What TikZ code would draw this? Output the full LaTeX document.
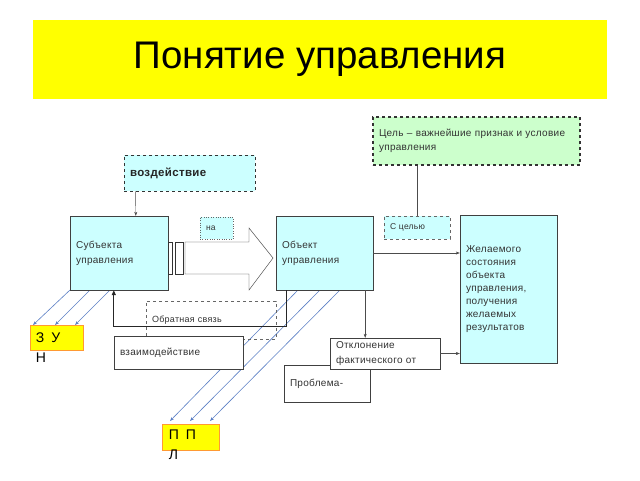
\documentclass[tikz,border=0pt]{standalone}
\usepackage{fontspec}
\setmainfont{Liberation Sans}
\usetikzlibrary{arrows.meta}

\definecolor{titleyellow}{HTML}{FFFF00}
\definecolor{boxcyan}{HTML}{CCFFFF}
\definecolor{boxgreen}{HTML}{CCFFCC}
\definecolor{linkblue}{HTML}{5B7FC4}
\definecolor{zunorange}{HTML}{FF9933}

\newcommand{\spaced}[2]{\fontsize{#1}{#2}\selectfont\addfontfeature{LetterSpace=3}}

\tikzset{
  box/.style={draw=black!75, text=black!80, align=left, inner xsep=6pt, inner ysep=0pt,
    font=\spaced{10}{14}},
  yellowbox/.style={draw=zunorange, fill=titleyellow, line width=0.8pt},
  arr/.style={draw=black!70, -{Stealth[length=4pt, width=3pt]}},
  link/.style={draw=linkblue, line width=0.6pt, -{Stealth[length=4pt, width=3pt]}}
}

\begin{document}
\begin{tikzpicture}[x=1pt, y=-1pt]
  \useasboundingbox (0, 0) rectangle (640, 480);

  \node[fill=titleyellow, minimum width=574pt, minimum height=79pt,
    font=\fontsize{38.5}{40}\selectfont] (title) at (320, 59.5) {Понятие управления};

  \node[box, fill=boxgreen, draw=black!80, line width=1.3pt, dashed, minimum width=207pt,
    minimum height=48pt, text width=195pt] (goal) at (476.5, 141)
    {Цель -- важнейшие признак и условие\\управления};

  \node[box, fill=boxcyan, draw=black!80, line width=0.9pt, dashed, minimum width=131pt,
    minimum height=36pt, text width=119pt, font=\spaced{11.5}{14}\bfseries,
    text=black!85] (vozd) at (189.5, 173) {воздействие};

  % blue lines go under the boxes
  \draw[link] (70, 290) -- (33, 325);
  \draw[link] (90, 290) -- (55, 325);
  \draw[link] (110, 290) -- (75, 325);
  \draw[link] (298, 290) -- (170, 421);
  \draw[link] (320, 290) -- (190, 421);
  \draw[link] (340, 290) -- (210, 421);

  \node[box, fill=boxcyan, minimum width=98pt, minimum height=74pt, text width=86pt,
    font=\spaced{10}{15}] (subj) at (119, 253) {Субъекта\\управления};
  \node[box, fill=boxcyan, minimum width=97pt, minimum height=74pt, text width=85pt,
    font=\spaced{10}{15}] (obj) at (324.5, 253) {Объект\\управления};
  \node[box, fill=boxcyan, minimum width=97pt, minimum height=148pt, text width=85pt,
    font=\spaced{10}{13}] (zhel) at (508.5, 289)
    {Желаемого\\состояния\\объекта\\управления,\\получения\\желаемых\\результатов};

  \node[box, fill=boxcyan, draw=black!60, dotted, minimum width=33pt, minimum height=22pt,
    text width=21pt, font=\spaced{8.5}{10}] (na) at (216.5, 228) {на};
  \node[box, fill=boxcyan, draw=black!60, dashed, minimum width=66pt, minimum height=23pt,
    text width=54pt, font=\spaced{8.5}{10}] (celyu) at (417, 227.5) {С целью};

  % block arrow
  \draw[draw=black!80, fill=white] (168, 242) rectangle (172, 274);
  \draw[draw=black!80, fill=white] (175, 242) rectangle (183, 274);
  \draw[draw=black!80, fill=white] (185, 242) -- (249, 242) -- (249, 228) -- (273, 258)
    -- (249, 290) -- (249, 274) -- (185, 274) -- cycle;

  \node[box, draw=black!60, dashed, minimum width=130pt, minimum height=38pt,
    text width=118pt, font=\spaced{9}{10}] (fbbox) at (211, 320) {Обратная связь};
  \draw[draw=black!85, line width=1.2pt, -{Triangle[length=5pt, width=4pt]}]
    ([xshift=11pt]obj.south west) -- ++(0, 36) -| ([xshift=44pt]subj.south west);

  \node[box, fill=white, minimum width=129pt, minimum height=33pt, text width=117pt]
    (vzaim) at (178.5, 352.5) {взаимодействие};
  \node[box, fill=white, minimum width=86pt, minimum height=37pt, text width=74pt]
    (probl) at (327, 383.5) {Проблема-};
  \node[box, fill=white, minimum width=110pt, minimum height=31pt, text width=98pt,
    font=\spaced{10}{15}] (otkl) at (385, 353.5) {Отклонение\\фактического от};

  \draw[draw=black!70] (celyu.north) -- (celyu.north |- goal.south);
  \draw[arr] ([xshift=12pt]vozd.south west) -- ([xshift=66pt]subj.north west);
  \draw[arr] (obj.east) -- (obj.east -| zhel.west);
  \draw[arr] ([xshift=-8pt]obj.south east) -- ([xshift=-8pt]obj.south east |- otkl.north);
  \draw[arr] (otkl.east) -- (otkl.east -| zhel.west);

  \node[yellowbox, minimum width=53pt, minimum height=25pt] (zun) at (56.5, 337.5) {};
  \node[anchor=north west, inner sep=0pt, align=left, font=\fontsize{14}{20}\selectfont]
    (zuntext) at ([xshift=6pt, yshift=-8pt]zun.north west) {З\hspace{7pt}У\\Н};
  \node[yellowbox, minimum width=57pt, minimum height=26pt] (ppl) at (190.5, 437) {};
  \node[anchor=north west, inner sep=0pt, align=left, font=\fontsize{14}{20}\selectfont]
    (ppltext) at ([xshift=7pt, yshift=-6pt]ppl.north west) {П\hspace{7pt}П\\Л};
\end{tikzpicture}
\end{document}
